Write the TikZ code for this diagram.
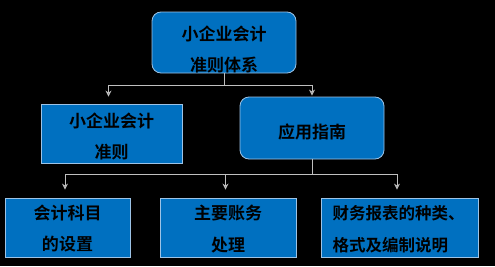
\documentclass[tikz,border=0pt]{standalone}
\usepackage{fontspec}
\newfontfamily\cjk{Noto Sans CJK SC}[BoldFont={* Bold}]
\usetikzlibrary{arrows.meta,calc}
\definecolor{boxblue}{HTML}{0070C0}
\definecolor{boxedge}{HTML}{9DC3E6}
\definecolor{linegray}{HTML}{BFBFBF}
\begin{document}
\begin{tikzpicture}[x=1pt,y=1pt,
  box/.style={draw=boxedge,line width=0.8pt,fill=boxblue,inner sep=0pt},
  rbox/.style={box,rounded corners=9pt},
  txt/.style={inner sep=0pt,font=\cjk\bfseries\fontsize{17}{31}\selectfont,text=black,align=center},
  conn/.style={draw=linegray,line width=0.9pt},
  arr/.style={conn,-{Stealth[open,length=6pt,width=6pt]}}]
\useasboundingbox (0,0) rectangle (495,266);
\fill[black] (0,0) rectangle (495,266);
\node[rbox,minimum width=144pt,minimum height=61pt] (top) at (224,223.5) {};
\node[box,minimum width=141pt,minimum height=59pt] (lm) at (111.5,132.5) {};
\node[rbox,minimum width=144pt,minimum height=62pt] (rm) at (312,138) {};
\node[box,minimum width=125pt,minimum height=59pt] (b1) at (67.5,38.5) {};
\node[box,minimum width=136pt,minimum height=59pt] (b2) at (228,38.5) {};
\node[box,minimum width=157pt,minimum height=59pt] (b3) at (399.5,38.5) {};
\node[txt] (topt) at ($(top)+(0,-7)$) {小企业会计\\准则体系};
\node[txt] (lmt) at ($(lm)+(0,-2.5)$) {小企业会计\\准则};
\node[txt] (rmt) at ($(rm)+(0,-4)$) {应用指南};
\node[txt] (b1t) at ($(b1)+(0,-1.5)$) {会计科目\\的设置};
\node[txt,font=\cjk\bfseries\fontsize{17}{32}\selectfont] (b2t) at ($(b2)+(0,-1.5)$) {主要账务\\处理};
\node[txt,align=left,font=\cjk\bfseries\fontsize{16.5}{32}\selectfont] (b3t) at ($(b3)+(-1,-1.5)$) {财务报表的种类、\\格式及编制说明};
\coordinate (j1) at ($(top.south)+(0,-12)$);
\draw[conn] (top.south) -- (j1);
\draw[arr] (j1) -| ([xshift=-3pt,yshift=7pt]lm.north);
\draw[arr] (j1) -| ([yshift=1pt]rm.north);
\coordinate (j2) at ($(rm.south)+(0,-15)$);
\draw[conn] (rm.south) -- (j2);
\draw[arr] (j2) -| ([xshift=-2.5pt,yshift=8pt]b1.north);
\draw[arr] (j2) -| ([xshift=-2.5pt,yshift=8pt]b2.north);
\draw[arr] (j2) -| ([xshift=-2.5pt,yshift=8pt]b3.north);
\end{tikzpicture}
\end{document}
